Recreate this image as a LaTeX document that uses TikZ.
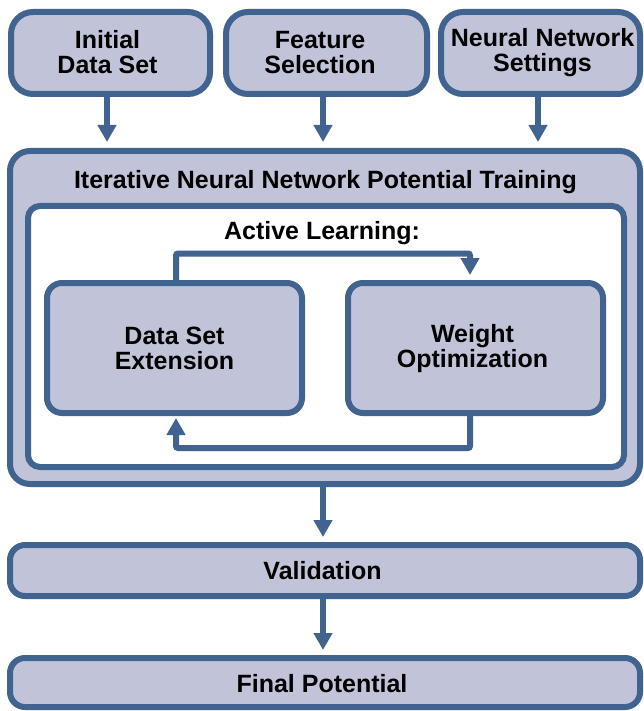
\documentclass[tikz,border=0pt]{standalone}
\usepackage{fontspec}
\setmainfont{Liberation Sans}
\usetikzlibrary{arrows.meta}
\definecolor{bordc}{HTML}{41638F}
\definecolor{fillc}{HTML}{C1C4D8}
\tikzset{
  box/.style={draw=bordc, fill=fillc, line width=6pt, rounded corners=#1, align=center,
    inner sep=0pt, font=\bfseries\fontsize{25}{25}\selectfont},
  box/.default=20pt,
  whitebox/.style={draw=bordc, fill=white, line width=6pt, rounded corners=12pt, inner sep=0pt},
  conn/.style={draw=bordc, line width=6pt, -{Triangle[width=18pt,length=17pt]}, rounded corners=2pt},
  lbl/.style={font=\bfseries\fontsize{25}{25}\selectfont, inner sep=0pt, anchor=base},
  txt/.style={font=\bfseries\fontsize{25}{25}\selectfont, inner sep=0pt, align=center}
}
\begin{document}
\begin{tikzpicture}[x=1pt,y=-1pt]
\useasboundingbox (0,0) rectangle (644,711);
% top boxes
\node[box=22pt, minimum width=199pt, minimum height=82pt] (a) at (110.5,53) {};
\node[txt] (at) at (107.5,52.5) {Initial\\Data Set};
\node[box=22pt, minimum width=201pt, minimum height=82pt] (b) at (326.5,53) {};
\node[txt] (bt) at (320,52.5) {Feature\\Selection};
\node[box=22pt, minimum width=199pt, minimum height=82pt] (c) at (540.5,53) {};
\node[txt] (ct) at (542.5,52.5) {Neural Network\\Settings};
% big box
\node[box=20pt, minimum width=630pt, minimum height=333pt] (big) at (325,317.5) {};
\node[lbl] (title) at (325.5,189) {Iterative Neural Network Potential Training};
\node[whitebox, minimum width=596pt, minimum height=261pt] (inner) at (326,336.5) {};
\node[lbl] (al) at (322,239.5) {Active Learning:};
\node[box=15pt, minimum width=255pt, minimum height=130pt] (dse) at (174.5,348) {Data Set\\Extension};
\node[box=15pt, minimum width=255pt, minimum height=130pt] (wo) at (475.5,348) {};
\node[txt] (wot) at (472.5,348.5) {Weight\\Optimization};
% bottom boxes
\node[box=15pt, minimum width=630pt, minimum height=51pt] (val) at (325,570.5) {};
\node[txt] (valt) at (322.5,571) {Validation};
\node[box=15pt, minimum width=630pt, minimum height=49pt] (fin) at (325,682.5) {};
\node[txt] (fint) at (322,683.5) {Final Potential};
% arrows top
\coordinate (xa) at (107,0);
\coordinate (xb) at (323,0);
\coordinate (xc) at (538,0);
\draw[conn, shorten >=6pt] (a.south -| xa) -- (big.north -| xa);
\draw[conn, shorten >=6pt] (b.south -| xb) -- (big.north -| xb);
\draw[conn, shorten >=6pt] (c.south -| xc) -- (big.north -| xc);
% loop
\coordinate (lt) at (176,253.5);
\coordinate (rt) at (470,253.5);
\coordinate (lb) at (176,448);
\coordinate (rb) at (470,448);
\draw[conn, shorten >=5pt] (dse.north -| lt) -- (lt) -- (rt) -- (wo.north -| rt);
\draw[conn, shorten >=2pt] (wo.south -| rb) -- (rb) -- (lb) -- (dse.south -| lb);
% bottom arrows
\draw[conn, shorten >=5pt] (big.south -| xb) -- (val.north -| xb);
\draw[conn, shorten >=5pt] (val.south -| xb) -- (fin.north -| xb);
\end{tikzpicture}
\end{document}
